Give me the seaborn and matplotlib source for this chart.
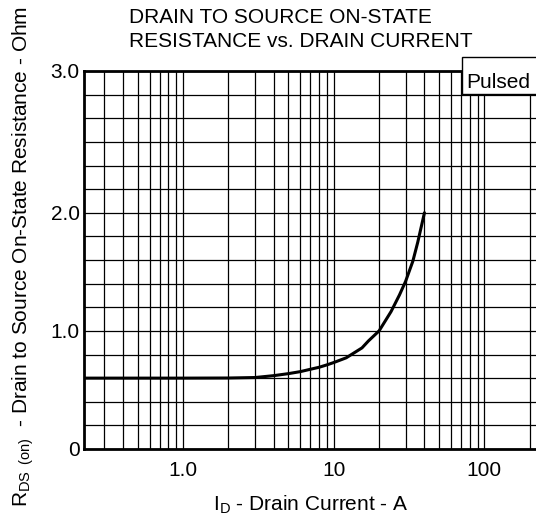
import pandas as pd
import matplotlib
matplotlib.use("Agg")
import matplotlib.pyplot as plt
import matplotlib.ticker as mticker
from matplotlib.patches import Rectangle
import seaborn as sns

# Curve
drain_current = [0.22, 1.0, 2.0, 3.0, 4.0, 5.0, 6.0, 7.0, 8.0, 9.0, 10,
                 12.1, 15.4, 17, 20, 24, 27.3, 30, 33.5, 36.1, 40]
rds_on = [0.60, 0.60, 0.601, 0.605, 0.621, 0.638, 0.655, 0.675, 0.692, 0.712, 0.732,
          0.772, 0.856, 0.915, 1.0, 1.163, 1.304, 1.42, 1.59, 1.75, 2.0]

x_ticks = [1.0, 10, 100]
x_tick_labels = ["1.0", "10", "100"]
y_ticks = [0, 1.0, 2.0, 3.2]
y_tick_labels = ["0", "1.0", "2.0", "3.0"]

df = pd.DataFrame({"ID": drain_current, "RDS": rds_on})

sns.set_theme(style="white")
plt.rcParams['font.family'] = ['Liberation Sans', 'DejaVu Sans']
plt.rcParams['mathtext.fontset'] = 'custom'
plt.rcParams['mathtext.rm'] = 'Liberation Sans'

fs = 15

fig = plt.figure(figsize=(5.36, 5.17), dpi=100)
ax = fig.add_axes([84 / 536, 68 / 517, 452 / 536, 378 / 517])

sns.lineplot(data=df, x="ID", y="RDS", color="black", linewidth=2.2, ax=ax, zorder=4)

ax.set_xscale("log")
ax.set_xlim(0.22, 220)
ax.set_ylim(0, 3.2)

ax.xaxis.set_major_locator(mticker.FixedLocator(x_ticks))
ax.xaxis.set_major_formatter(mticker.FixedFormatter(x_tick_labels))
ax.xaxis.set_minor_locator(mticker.LogLocator(base=10, subs=range(2, 10)))
ax.xaxis.set_minor_formatter(mticker.NullFormatter())
ax.yaxis.set_major_locator(mticker.FixedLocator(y_ticks))
ax.yaxis.set_major_formatter(mticker.FixedFormatter(y_tick_labels))
ax.yaxis.set_minor_locator(mticker.MultipleLocator(0.2))

ax.grid(True, which="both", color="black", linewidth=0.9)
ax.tick_params(which="both", length=0, labelsize=fs, colors="black")
ax.tick_params(axis="x", pad=9)
ax.tick_params(axis="y", pad=3)

for side in ["left", "bottom", "top"]:
    ax.spines[side].set_color("black")
    ax.spines[side].set_linewidth(2)
ax.spines["right"].set_visible(False)

ax.set_xlabel(r"I$_{\mathrm{D}}$ - Drain Current - A", fontsize=fs, color="black", va="baseline")
ax.set_ylabel("")
ax.xaxis.set_label_coords((311 - 84) / 452, -(510.5 - 449) / 378)

fig.text(23 / 536, 1 - 256 / 517,
         r"R$_{\mathrm{DS}}$ $_{\mathrm{(on)}}$  - Drain to Source On-State Resistance - Ohm",
         rotation=90, ha="center", va="center", fontsize=fs, color="black")

fig.text(129 / 536, 1 - 8 / 517, "DRAIN TO SOURCE ON-STATE\nRESISTANCE vs. DRAIN CURRENT",
         ha="left", va="top", fontsize=fs, color="black", linespacing=1.35)

# "Pulsed" label box in the top right corner
box = Rectangle(((461.7 - 84) / 452, (449 - 94.3) / 378), 0.2, 0.1, transform=ax.transAxes,
                facecolor="white", edgecolor="black", linewidth=1, zorder=5, clip_on=False)
ax.add_patch(box)
ax.text((466 - 84) / 452, (449 - 82.5) / 378, "Pulsed", transform=ax.transAxes,
        ha="left", va="center", fontsize=fs, color="black", zorder=6)

fig.savefig("out.png", dpi=100)
